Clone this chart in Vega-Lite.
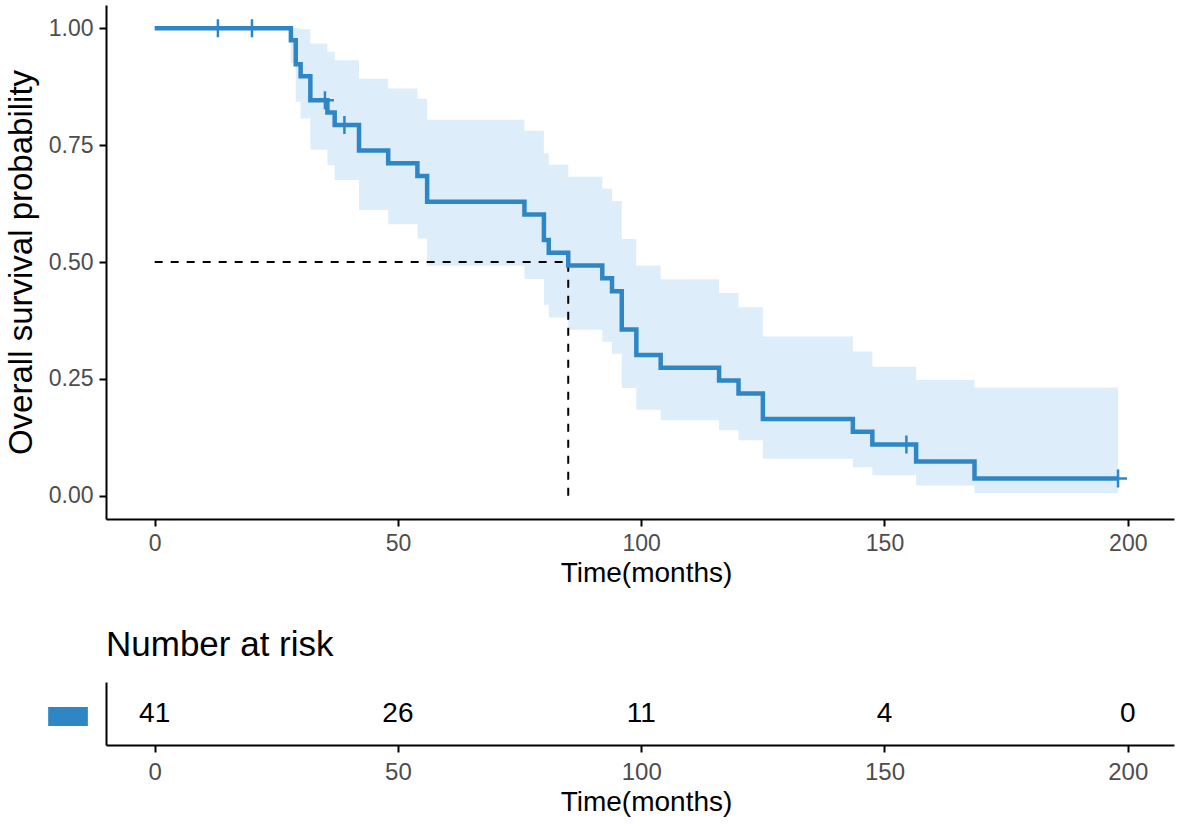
{
  "$schema": "https://vega.github.io/schema/vega-lite/v6.json",
  "padding": {"left": 5, "top": 5, "right": 5, "bottom": 5},
  "bounds": "flush",
  "spacing": 163,
  "config": {
    "font": "Liberation Sans",
    "view": {"stroke": null},
    "axis": {
      "grid": false,
      "domainColor": "black",
      "domainWidth": 2,
      "tickColor": "black",
      "tickWidth": 2,
      "labelColor": "#4d4d4d",
      "titleColor": "black",
      "titleFontWeight": "normal",
      "labelFont": "Liberation Sans",
      "titleFont": "Liberation Sans"
    }
  },
  "datasets": {
    "km": [
      {"time": 0, "surv": 1, "lower": 1, "upper": 1},
      {"time": 28, "surv": 0.9744, "lower": 0.926, "upper": 1},
      {"time": 29, "surv": 0.9231, "lower": 0.8431, "upper": 1},
      {"time": 30, "surv": 0.8974, "lower": 0.8071, "upper": 0.998},
      {"time": 32, "surv": 0.8462, "lower": 0.7402, "upper": 0.9674},
      {"time": 35.5, "surv": 0.8197, "lower": 0.7072, "upper": 0.9501},
      {"time": 37, "surv": 0.7933, "lower": 0.6753, "upper": 0.9319},
      {"time": 42, "surv": 0.7386, "lower": 0.6114, "upper": 0.8923},
      {"time": 48, "surv": 0.7112, "lower": 0.5806, "upper": 0.8713},
      {"time": 54, "surv": 0.6838, "lower": 0.5504, "upper": 0.8496},
      {"time": 56, "surv": 0.6291, "lower": 0.492, "upper": 0.8045},
      {"time": 76, "surv": 0.6017, "lower": 0.4636, "upper": 0.7811},
      {"time": 80, "surv": 0.547, "lower": 0.4083, "upper": 0.7328},
      {"time": 81, "surv": 0.5197, "lower": 0.3814, "upper": 0.708},
      {"time": 85, "surv": 0.4923, "lower": 0.355, "upper": 0.6827},
      {"time": 92, "surv": 0.465, "lower": 0.3291, "upper": 0.657},
      {"time": 94, "surv": 0.4376, "lower": 0.3037, "upper": 0.6307},
      {"time": 96, "surv": 0.3556, "lower": 0.2302, "upper": 0.5492},
      {"time": 99, "surv": 0.3009, "lower": 0.1838, "upper": 0.4925},
      {"time": 104, "surv": 0.2735, "lower": 0.1615, "upper": 0.4632},
      {"time": 116, "surv": 0.2462, "lower": 0.1398, "upper": 0.4336},
      {"time": 120, "surv": 0.2188, "lower": 0.1187, "upper": 0.4032},
      {"time": 125, "surv": 0.1641, "lower": 0.079, "upper": 0.3407},
      {"time": 143.5, "surv": 0.1368, "lower": 0.0606, "upper": 0.3086},
      {"time": 147.5, "surv": 0.1094, "lower": 0.0434, "upper": 0.2756},
      {"time": 156.5, "surv": 0.0729, "lower": 0.0215, "upper": 0.2475},
      {"time": 168.5, "surv": 0.0365, "lower": 0.0058, "upper": 0.2316},
      {"time": 198, "surv": 0.0365, "lower": 0.0058, "upper": 0.2316}
    ],
    "censor": [
      {"time": 13, "surv": 1},
      {"time": 20, "surv": 1},
      {"time": 35, "surv": 0.8462},
      {"time": 39, "surv": 0.7933},
      {"time": 154.5, "surv": 0.1094},
      {"time": 198, "surv": 0.0365}
    ],
    "median": [
      {"x": 0, "x2": 85, "y": 0.5, "y2": 0.5},
      {"x": 85, "x2": 85, "y": 0, "y2": 0.5}
    ],
    "risk": [
      {"strata": "All", "time": 0, "n": 41},
      {"strata": "All", "time": 50, "n": 26},
      {"strata": "All", "time": 100, "n": 11},
      {"strata": "All", "time": 150, "n": 4},
      {"strata": "All", "time": 200, "n": 0}
    ]
  },
  "vconcat": [
    {
      "width": 1068,
      "height": 514,
      "layer": [
        {
          "data": {"name": "km"},
          "mark": {"type": "area", "interpolate": "step-after", "color": "#ddeefa", "opacity": 1},
          "encoding": {
            "x": {"field": "time", "type": "quantitative", "title": "Time(months)",
              "scale": {"domain": [-10, 209.5], "nice": false, "zero": false},
              "axis": {"values": [0, 50, 100, 150, 200], "labelFontSize": 23, "tickSize": 7, "labelPadding": 6, "titleFontSize": 28, "titlePadding": 4, "titleX": 540}},
            "y": {"field": "lower", "type": "quantitative", "title": "Overall survival probability",
              "scale": {"domain": [-0.05, 1.05], "nice": false, "zero": false},
              "axis": {"values": [0, 0.25, 0.5, 0.75, 1], "format": ".2f", "labelFontSize": 23, "tickSize": 7, "labelPadding": 6, "titleFontSize": 33, "titlePadding": 10}},
            "y2": {"field": "upper"}
          }
        },
        {
          "data": {"name": "median"},
          "mark": {"type": "rule", "color": "black", "strokeWidth": 2, "strokeDash": [8, 8]},
          "encoding": {
            "x": {"field": "x", "type": "quantitative", "title": "Time(months)"},
            "x2": {"field": "x2"},
            "y": {"field": "y", "type": "quantitative", "title": "Overall survival probability"},
            "y2": {"field": "y2"}
          }
        },
        {
          "data": {"name": "km"},
          "mark": {"type": "line", "interpolate": "step-after", "color": "#2f86c4", "strokeWidth": 4.5},
          "encoding": {
            "x": {"field": "time", "type": "quantitative", "title": "Time(months)"},
            "y": {"field": "surv", "type": "quantitative", "title": "Overall survival probability"}
          }
        },
        {
          "data": {"name": "censor"},
          "mark": {"type": "point", "shape": "M-1,0L1,0M0,-1L0,1", "filled": false, "size": 324, "strokeWidth": 2.5, "color": "#2f86c4", "opacity": 1},
          "encoding": {
            "x": {"field": "time", "type": "quantitative", "title": "Time(months)"},
            "y": {"field": "surv", "type": "quantitative", "title": "Overall survival probability"}
          }
        }
      ]
    },
    {
      "width": 1068,
      "height": 63,
      "title": {"text": "Number at risk", "anchor": "start", "frame": "group", "fontSize": 35, "fontWeight": "normal", "color": "black", "font": "Liberation Sans", "baseline": "alphabetic", "offset": -9},
      "data": {"name": "risk"},
      "mark": {"type": "text", "fontSize": 28, "color": "black", "font": "Liberation Sans"},
      "encoding": {
        "x": {"field": "time", "type": "quantitative", "title": "Time(months)",
          "scale": {"domain": [-10, 209.5], "nice": false, "zero": false},
          "axis": {"values": [0, 50, 100, 150, 200], "labelFontSize": 24, "tickSize": 7, "labelPadding": 8, "titleFontSize": 28, "titlePadding": 4, "titleX": 540}},
        "y": {"field": "strata", "type": "nominal", "title": null,
          "axis": {"ticks": false, "labelExpr": "'▬'", "labelColor": "#2f86c4", "labelFontSize": 52, "labelFont": "DejaVu Sans", "labelPadding": 14}},
        "text": {"field": "n", "type": "quantitative"}
      }
    }
  ]
}
